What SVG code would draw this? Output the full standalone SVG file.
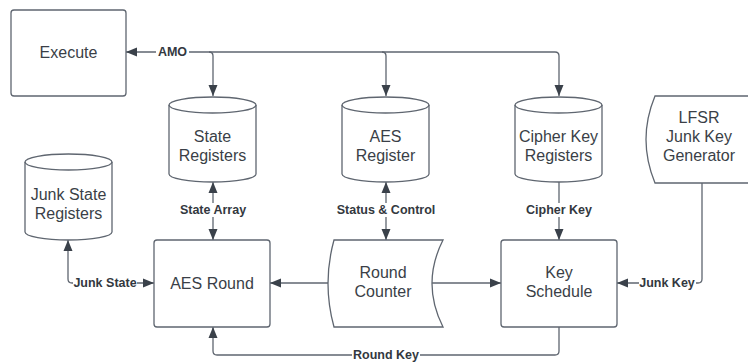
<svg xmlns="http://www.w3.org/2000/svg" width="748" height="362" viewBox="0 0 748 362">
<style>
.node{fill:#ffffff;stroke:#5f6670;stroke-width:1.3}
.nt{font-family:"Liberation Sans",Arial,sans-serif;font-size:16px;fill:#3a3f47;text-anchor:middle}
.ln{fill:none;stroke:#5f6670;stroke-width:1.3}
.lb{font-family:"Liberation Sans",Arial,sans-serif;font-size:12.5px;font-weight:bold;fill:#333840;text-anchor:middle;dominant-baseline:central}
.bg{fill:#ffffff}
</style>
<defs>
<marker id="ah" markerUnits="userSpaceOnUse" markerWidth="11" markerHeight="10" refX="11" refY="5" orient="auto-start-reverse">
<path d="M0,0.5 L11,5 L0,9.5 z" fill="#3a414a"/>
</marker>
</defs>
<g id="connectors">
<path class="ln" d="M559,96 L559,56 Q559,52 555,52 L126,52" marker-start="url(#ah)" marker-end="url(#ah)"/>
<path class="ln" d="M209,52 Q213,52 213,56 L213,96" marker-end="url(#ah)"/>
<path class="ln" d="M382,52 Q386,52 386,56 L386,96" marker-end="url(#ah)"/>
<path class="ln" d="M213,182 L213,240" marker-start="url(#ah)" marker-end="url(#ah)"/>
<path class="ln" d="M386,182 L386,240" marker-start="url(#ah)" marker-end="url(#ah)"/>
<path class="ln" d="M559,182 L559,240" marker-end="url(#ah)"/>
<path class="ln" d="M154,283 L72,283 Q68,283 68,279 L68,240" marker-start="url(#ah)" marker-end="url(#ah)"/>
<path class="ln" d="M328,283 L270,283" marker-end="url(#ah)"/>
<path class="ln" d="M432,283 L501,283" marker-end="url(#ah)"/>
<path class="ln" d="M702,183 L702,279 Q702,283 698,283 L617,283" marker-end="url(#ah)"/>
<path class="ln" d="M559,327 L559,351 Q559,355 555,355 L217,355 Q213,355 213,351 L213,327" marker-end="url(#ah)"/>
<rect class="bg" x="156" y="45" width="33" height="14"/>
<text class="lb" x="172.5" y="52">AMO</text>
<rect class="bg" x="178" y="203" width="70" height="14"/>
<text class="lb" x="213" y="210">State Array</text>
<rect class="bg" x="335" y="203" width="102" height="14"/>
<text class="lb" x="386" y="210">Status &amp; Control</text>
<rect class="bg" x="525" y="203" width="68" height="14"/>
<text class="lb" x="559" y="210">Cipher Key</text>
<rect class="bg" x="73" y="276" width="64" height="14"/>
<text class="lb" x="105" y="283">Junk State</text>
<rect class="bg" x="639" y="276" width="57" height="14"/>
<text class="lb" x="667" y="283">Junk Key</text>
<rect class="bg" x="352" y="348" width="68" height="14"/>
<text class="lb" x="386" y="355">Round Key</text>
</g>
<g id="execute">
<rect class="node" x="11" y="10" width="115" height="86" rx="3"/>
<text class="nt" x="68.5" y="58">Execute</text>
</g>
<g id="state-registers">
<path class="node" d="M169,105 A43.5,8 0 0 1 256,105 L256,174 A43.5,8 0 0 1 169,174 Z"/>
<path class="ln" d="M169,105 A43.5,8 0 0 0 256,105"/>
<text class="nt" x="212.5" y="142">State</text>
<text class="nt" x="212.5" y="161">Registers</text>
</g>
<g id="aes-register">
<path class="node" d="M342,105 A43.5,8 0 0 1 429,105 L429,174 A43.5,8 0 0 1 342,174 Z"/>
<path class="ln" d="M342,105 A43.5,8 0 0 0 429,105"/>
<text class="nt" x="385.5" y="142">AES</text>
<text class="nt" x="385.5" y="161">Register</text>
</g>
<g id="cipher-key-registers">
<path class="node" d="M515,105 A43.5,8 0 0 1 602,105 L602,174 A43.5,8 0 0 1 515,174 Z"/>
<path class="ln" d="M515,105 A43.5,8 0 0 0 602,105"/>
<text class="nt" x="558.5" y="142">Cipher Key</text>
<text class="nt" x="558.5" y="161">Registers</text>
</g>
<g id="lfsr">
<path class="node" d="M655,96 L760,96 L760,183 L655,183 Q637,139.5 655,96 Z"/>
<text class="nt" x="699" y="123">LFSR</text>
<text class="nt" x="699" y="142">Junk Key</text>
<text class="nt" x="699" y="161">Generator</text>
</g>
<g id="junk-state-registers">
<path class="node" d="M25,162 A43.5,8 0 0 1 112,162 L112,232 A43.5,8 0 0 1 25,232 Z"/>
<path class="ln" d="M25,162 A43.5,8 0 0 0 112,162"/>
<text class="nt" x="68.5" y="199.5">Junk State</text>
<text class="nt" x="68.5" y="218.5">Registers</text>
</g>
<g id="aes-round">
<rect class="node" x="154" y="240" width="116" height="87" rx="3"/>
<text class="nt" x="212" y="288.5">AES Round</text>
</g>
<g id="round-counter">
<path class="node" d="M334,240 L443,240 Q421,283.5 443,327 L334,327 Q322,283.5 334,240 Z"/>
<text class="nt" x="383" y="277.5">Round</text>
<text class="nt" x="383" y="296.5">Counter</text>
</g>
<g id="key-schedule">
<rect class="node" x="501" y="240" width="116" height="87" rx="3"/>
<text class="nt" x="559" y="277.5">Key</text>
<text class="nt" x="559" y="296.5">Schedule</text>
</g>
</svg>
